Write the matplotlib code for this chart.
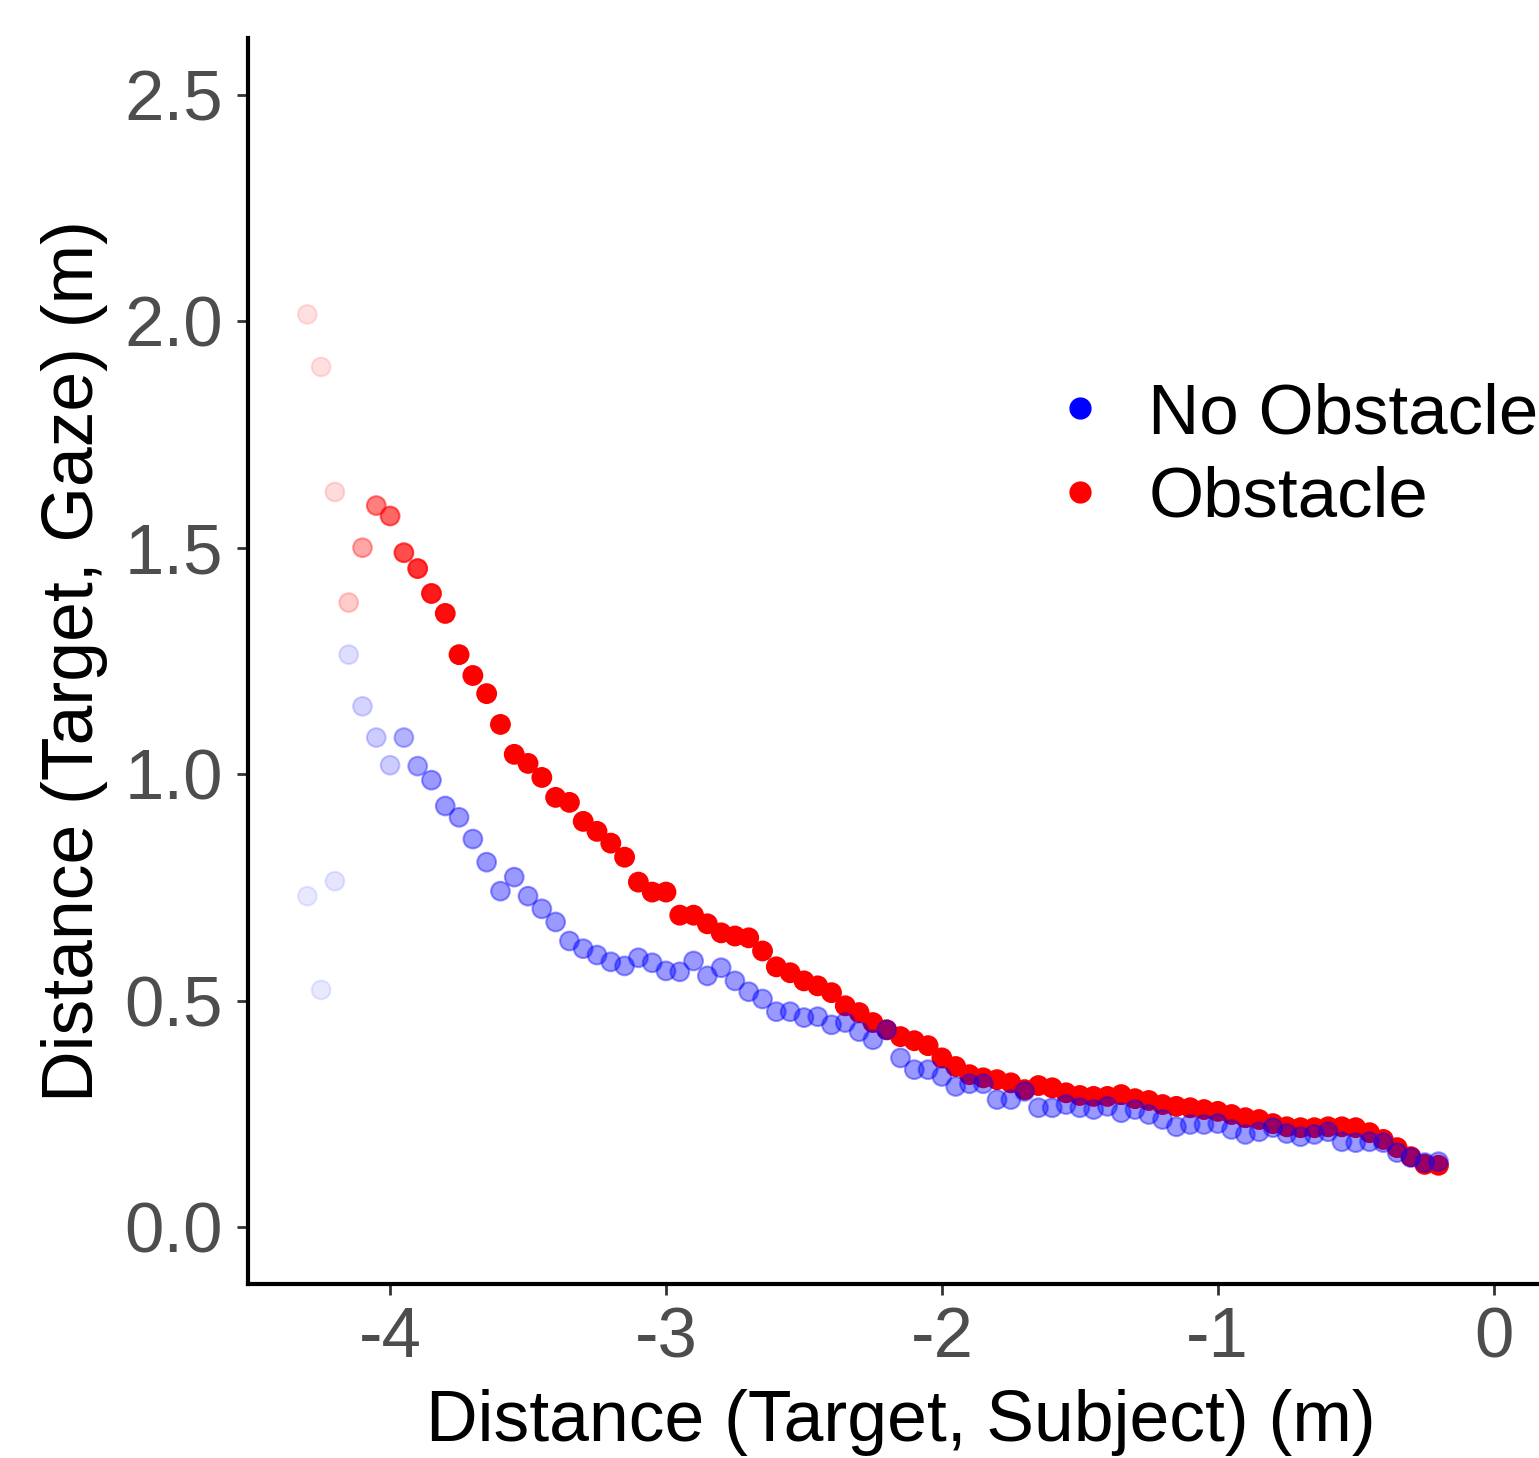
import numpy as np
import matplotlib
matplotlib.use("Agg")
import matplotlib.pyplot as plt
from matplotlib.lines import Line2D

plt.rcParams['font.family'] = ['Liberation Sans', 'DejaVu Sans']
plt.rcParams['axes.unicode_minus'] = False

# distance target-subject (m), same grid for both conditions
x_pos = [-4.30, -4.25, -4.20, -4.15, -4.10, -4.05, -4.00, -3.95, -3.90, -3.85,
         -3.80, -3.75, -3.70, -3.65, -3.60, -3.55, -3.50, -3.45, -3.40, -3.35,
         -3.30, -3.25, -3.20, -3.15, -3.10, -3.05, -3.00, -2.95, -2.90, -2.85,
         -2.80, -2.75, -2.70, -2.65, -2.60, -2.55, -2.50, -2.45, -2.40, -2.35,
         -2.30, -2.25, -2.20, -2.15, -2.10, -2.05, -2.00, -1.95, -1.90, -1.85,
         -1.80, -1.75, -1.70, -1.65, -1.60, -1.55, -1.50, -1.45, -1.40, -1.35,
         -1.30, -1.25, -1.20, -1.15, -1.10, -1.05, -1.00, -0.95, -0.90, -0.85,
         -0.80, -0.75, -0.70, -0.65, -0.60, -0.55, -0.50, -0.45, -0.40, -0.35,
         -0.30, -0.25, -0.20]

# distance target-gaze (m)
obstacle_y = [2.015, 1.899, 1.623, 1.379, 1.500, 1.593, 1.570, 1.489, 1.454, 1.399,
              1.355, 1.264, 1.218, 1.178, 1.110, 1.044, 1.024, 0.993, 0.949, 0.938,
              0.896, 0.874, 0.848, 0.817, 0.762, 0.740, 0.740, 0.689, 0.689, 0.670,
              0.650, 0.643, 0.639, 0.610, 0.575, 0.562, 0.544, 0.533, 0.518, 0.489,
              0.474, 0.452, 0.436, 0.421, 0.412, 0.401, 0.374, 0.355, 0.337, 0.330,
              0.326, 0.319, 0.304, 0.313, 0.308, 0.297, 0.291, 0.289, 0.289, 0.293,
              0.284, 0.280, 0.271, 0.267, 0.264, 0.260, 0.256, 0.249, 0.242, 0.238,
              0.229, 0.222, 0.220, 0.220, 0.222, 0.222, 0.220, 0.209, 0.194, 0.176,
              0.156, 0.139, 0.137]

no_obstacle_y = [0.731, 0.524, 0.764, 1.264, 1.150, 1.081, 1.020, 1.081, 1.018, 0.987,
                 0.930, 0.905, 0.857, 0.806, 0.742, 0.773, 0.731, 0.703, 0.674, 0.632,
                 0.615, 0.601, 0.586, 0.577, 0.595, 0.584, 0.566, 0.564, 0.588, 0.555,
                 0.573, 0.544, 0.520, 0.504, 0.476, 0.476, 0.463, 0.465, 0.447, 0.452,
                 0.432, 0.414, 0.436, 0.374, 0.348, 0.348, 0.333, 0.311, 0.317, 0.317,
                 0.282, 0.282, 0.300, 0.264, 0.264, 0.271, 0.264, 0.260, 0.267, 0.253,
                 0.260, 0.249, 0.238, 0.222, 0.227, 0.227, 0.229, 0.216, 0.205, 0.211,
                 0.220, 0.207, 0.200, 0.205, 0.211, 0.189, 0.187, 0.189, 0.187, 0.165,
                 0.154, 0.143, 0.145]

# point opacity (sample weight) per condition
obstacle_alpha = [0.12, 0.12, 0.14, 0.2, 0.35, 0.5, 0.6, 0.7, 0.8, 0.9, 0.95] + [1.0] * 72
no_obstacle_alpha = [0.09, 0.09, 0.1, 0.13, 0.17, 0.2, 0.2, 0.3, 0.35, 0.4] + [0.4] * 73


def rgba(color, alphas):
    c = np.array(matplotlib.colors.to_rgba(color))
    out = np.tile(c, (len(alphas), 1))
    out[:, 3] = alphas
    return out


fig = plt.figure(figsize=(15.39, 14.58), dpi=100)
ax = fig.add_axes([248 / 1539, 1 - 1284 / 1458, (1553 - 248) / 1539, (1284 - 38) / 1458])

red = rgba('#FF0000', obstacle_alpha)
blue = rgba('#0000FF', no_obstacle_alpha)
ax.scatter(x_pos, obstacle_y, s=13.5 ** 2, facecolors=red, edgecolors=red, linewidths=1.5)
ax.scatter(x_pos, no_obstacle_y, s=13.5 ** 2, facecolors=blue, edgecolors=blue, linewidths=1.5)

ax.set_xlim(-4.515, 0.215)
ax.set_ylim(-0.125, 2.625)
ax.set_xticks([-4, -3, -2, -1, 0])
ax.set_yticks([0.0, 0.5, 1.0, 1.5, 2.0, 2.5])
ax.set_yticklabels(['0.0', '0.5', '1.0', '1.5', '2.0', '2.5'])

for side in ['top', 'right']:
    ax.spines[side].set_visible(False)
for side in ['left', 'bottom']:
    ax.spines[side].set_linewidth(3)
    ax.spines[side].set_color('black')

ax.tick_params(direction='out', length=8, width=2, color='#333333',
               labelcolor='#4D4D4D', labelsize=51)
ax.tick_params(axis='x', pad=8)
ax.tick_params(axis='y', pad=10)

ax.set_xlabel('Distance (Target, Subject) (m)', fontsize=51.5, labelpad=12)
ax.set_ylabel('Distance (Target, Gaze) (m)', fontsize=51.5, labelpad=12)

handles = [Line2D([], [], marker='o', ls='none', color='#0000FF', markersize=15),
           Line2D([], [], marker='o', ls='none', color='#FF0000', markersize=15)]
fig.legend(handles, ['No Obstacle', 'Obstacle'], loc='center left',
           bbox_to_anchor=(1045 / 1539, 1 - 457 / 1458), frameon=False, fontsize=51,
           handlelength=1.0, handletextpad=0.46, labelspacing=0.25,
           borderpad=0, borderaxespad=0)

plt.savefig('out.png', dpi=100)
